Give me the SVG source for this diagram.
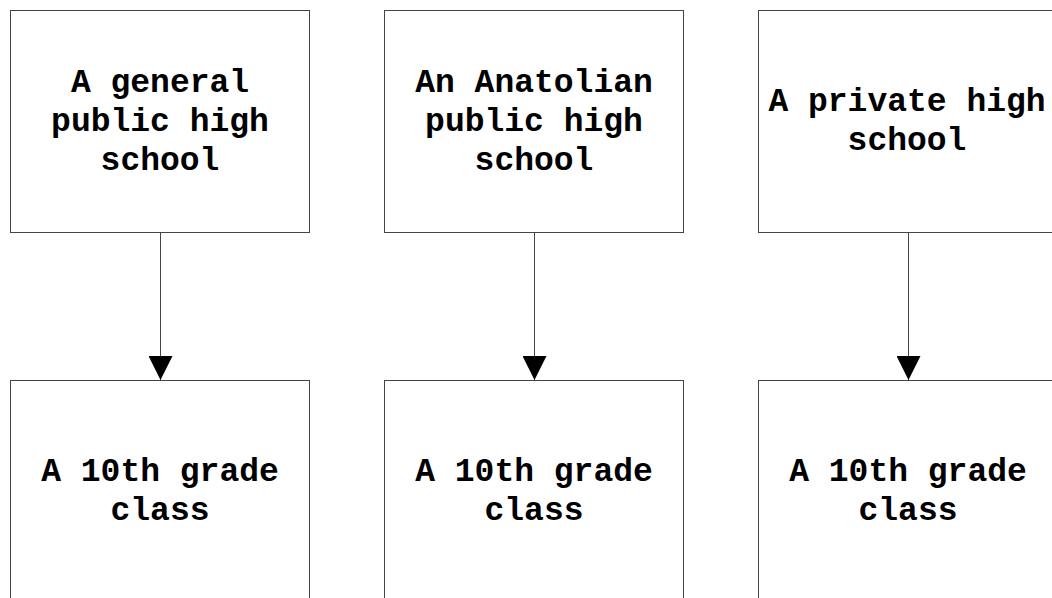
<svg xmlns="http://www.w3.org/2000/svg" width="1052" height="598" viewBox="0 0 1052 598">
<style>
.box{fill:#fff;stroke:#444;stroke-width:1}
.lbl{font-family:"Liberation Mono","Courier New",monospace;font-weight:bold;font-size:33px;fill:#000;text-anchor:middle}
.edge{stroke:#444;stroke-width:1;fill:none}
</style>
<defs>
<marker id="arr" markerUnits="userSpaceOnUse" markerWidth="26" markerHeight="24" refX="24" refY="12" orient="auto" viewBox="0 0 24 24">
<path d="M0,0 L24,12 L0,24 Z" fill="#000"/>
</marker>
</defs>
<rect width="1052" height="598" fill="#fff"/>
<g id="connectors">
<line class="edge" x1="160.5" y1="232.5" x2="160.5" y2="380" marker-end="url(#arr)"/>
<line class="edge" x1="534.5" y1="232.5" x2="534.5" y2="380" marker-end="url(#arr)"/>
<line class="edge" x1="908.5" y1="232.5" x2="908.5" y2="380" marker-end="url(#arr)"/>
</g>
<g id="n1">
<rect class="box" x="10.5" y="10.5" width="299" height="222"/>
<text class="lbl" x="160" y="92">A general</text>
<text class="lbl" x="160" y="131">public high</text>
<text class="lbl" x="160" y="170">school</text>
</g>
<g id="n2">
<rect class="box" x="384.5" y="10.5" width="299" height="222"/>
<text class="lbl" x="534" y="92">An Anatolian</text>
<text class="lbl" x="534" y="131">public high</text>
<text class="lbl" x="534" y="170">school</text>
</g>
<g id="n3">
<rect class="box" x="758.5" y="10.5" width="299" height="222"/>
<text class="lbl" x="907" y="111">A private high</text>
<text class="lbl" x="907" y="150">school</text>
</g>
<g id="n4">
<rect class="box" x="10.5" y="380.5" width="299" height="222"/>
<text class="lbl" x="160" y="481">A 10th grade</text>
<text class="lbl" x="160" y="520">class</text>
</g>
<g id="n5">
<rect class="box" x="384.5" y="380.5" width="299" height="222"/>
<text class="lbl" x="534" y="481">A 10th grade</text>
<text class="lbl" x="534" y="520">class</text>
</g>
<g id="n6">
<rect class="box" x="758.5" y="380.5" width="299" height="222"/>
<text class="lbl" x="908" y="481">A 10th grade</text>
<text class="lbl" x="908" y="520">class</text>
</g>
</svg>
